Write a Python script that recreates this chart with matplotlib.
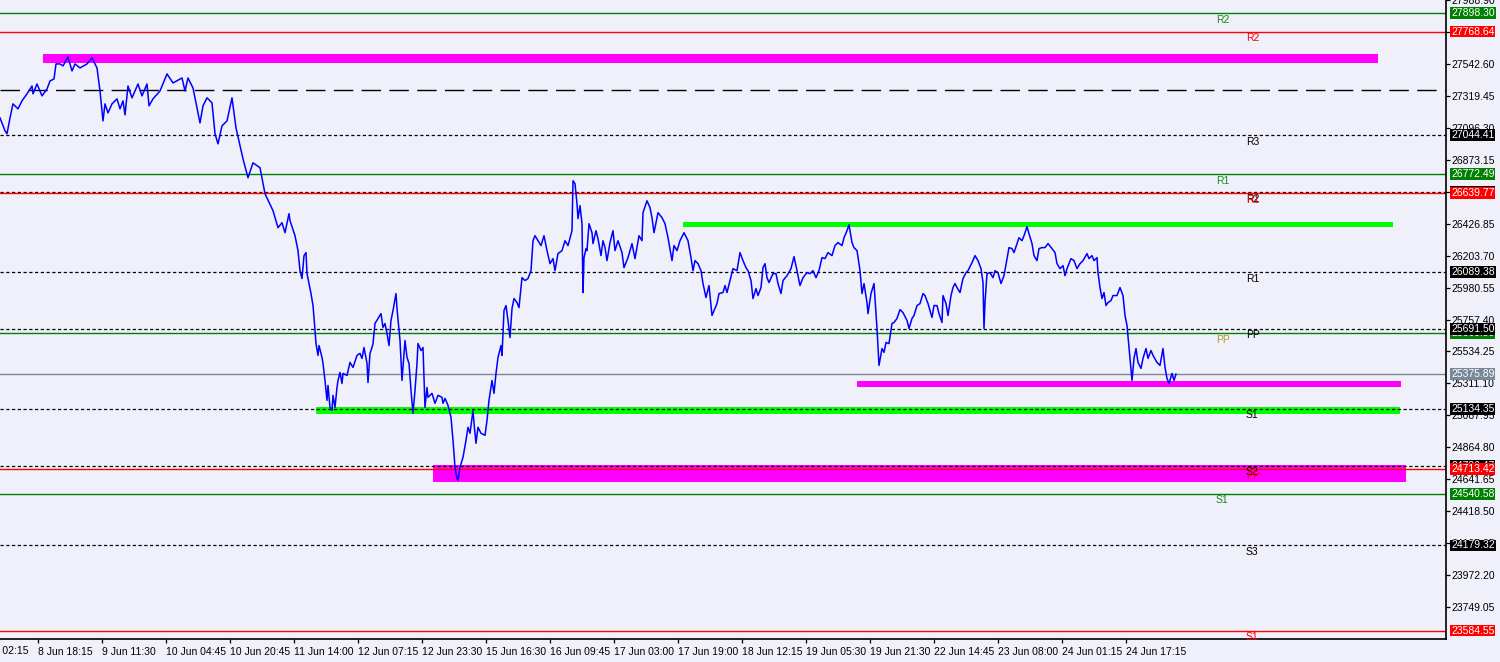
import matplotlib
matplotlib.use("Agg")
import matplotlib.pyplot as plt

plt.rcParams['font.family'] = ['Liberation Sans', 'DejaVu Sans']

# price series (bar number, close)
bars = [0, 5, 7, 10, 13, 18, 22, 27, 32, 33, 37, 42, 47, 50, 54, 56, 60, 63, 68, 72, 75, 80, 87, 92, 97,
        100, 103, 105, 108, 112, 117, 120, 123, 125, 128, 132, 138, 142, 147, 149, 153, 160, 167, 173, 182,
        185, 188, 193, 197, 200, 203, 207, 212, 215, 218, 222, 227, 232, 236, 240, 243, 248, 253, 260, 265,
        273, 278, 282, 285, 289, 290, 295, 298, 300, 302, 304, 306, 307, 311, 313, 314, 316, 318, 319, 322,
        323, 325, 327, 328, 330, 332, 333, 335, 337, 338, 340, 342, 343, 347, 350, 353, 357, 360, 362, 364,
        367, 368, 370, 372, 373, 375, 378, 381, 383, 385, 387, 389, 391, 393, 396, 397, 400, 402, 405, 407,
        409, 411, 413, 415, 417, 418, 421, 423, 424, 425, 427, 428, 432, 435, 438, 442, 443, 445, 448, 451,
        453, 455, 457, 458, 460, 463, 466, 468, 470, 473, 474, 476, 478, 481, 485, 487, 489, 492, 494, 496,
        498, 501, 502, 504, 506, 508, 510, 512, 514, 517, 519, 522, 525, 528, 531, 533, 535, 538, 541, 544,
        547, 550, 553, 555, 558, 562, 565, 568, 572, 573, 575, 577, 578, 580, 582, 583, 584, 586, 587, 589,
        592, 593, 596, 598, 601, 603, 605, 607, 610, 613, 615, 618, 622, 624, 628, 632, 635, 639, 642, 643,
        647, 650, 652, 654, 657, 658, 662, 665, 668, 672, 674, 677, 680, 684, 688, 691, 693, 695, 698, 701,
        703, 706, 709, 712, 714, 717, 719, 723, 725, 727, 730, 733, 737, 740, 743, 746, 748, 751, 753, 756,
        758, 761, 763, 765, 767, 769, 773, 776, 778, 781, 783, 787, 791, 794, 797, 800, 803, 807, 810, 813,
        816, 819, 822, 825, 828, 832, 835, 838, 842, 844, 847, 849, 852, 854, 857, 860, 862, 864, 867, 868,
        871, 874, 877, 879, 882, 884, 886, 889, 892, 894, 897, 900, 903, 907, 909, 912, 914, 917, 920, 923,
        925, 928, 932, 934, 937, 939, 942, 943, 946, 948, 951, 953, 955, 957, 960, 963, 966, 968, 972, 975,
        978, 981, 983, 984, 985, 987, 990, 993, 995, 998, 1001, 1004, 1007, 1009, 1012, 1014, 1017, 1019, 1022, 1024,
        1027, 1029, 1032, 1034, 1037, 1039, 1042, 1045, 1048, 1052, 1055, 1057, 1060, 1063, 1065, 1067, 1071, 1074, 1077, 1080,
        1083, 1087, 1089, 1092, 1094, 1097, 1098, 1100, 1102, 1104, 1106, 1108, 1111, 1113, 1117, 1120, 1123, 1125, 1127, 1129,
        1132, 1134, 1136, 1138, 1141, 1143, 1146, 1148, 1151, 1153, 1157, 1160, 1163, 1165, 1167, 1169, 1172, 1174, 1176]
price = [27166, 27076, 27055, 27166, 27264, 27229, 27285, 27334, 27389, 27334, 27403, 27320, 27368, 27424, 27438, 27543, 27543, 27529, 27592, 27494, 27543, 27515, 27543, 27585, 27515,
         27354, 27145, 27264, 27201, 27264, 27299, 27229, 27285, 27187, 27389, 27306, 27403, 27320, 27403, 27250, 27299, 27354, 27473, 27410, 27445,
         27354, 27445, 27375, 27236, 27131, 27250, 27306, 27271, 27055, 26985, 27110, 27145, 27306, 27096, 26971, 26880, 26748, 26852, 26818, 26636,
         26518, 26399, 26434, 26364, 26497, 26448, 26343, 26239, 26099, 26044, 26204, 26225, 26078, 25939, 25855, 25772, 25590, 25507, 25576, 25493,
         25451, 25332, 25193, 25297, 25144, 25123, 25228, 25144, 25283, 25332, 25388, 25311, 25381, 25367, 25458, 25423, 25507, 25521, 25486, 25562,
         25451, 25318, 25521, 25562, 25590, 25730, 25765, 25799, 25702, 25730, 25660, 25576, 25751, 25820, 25939, 25834, 25611, 25332, 25611, 25493,
         25451, 25263, 25102, 25263, 25451, 25590, 25541, 25562, 25353, 25144, 25283, 25214, 25242, 25172, 25228, 25214, 25172, 25207, 25158, 25074,
         24914, 24726, 24649, 24635, 24726, 24795, 24914, 25005, 24963, 25123, 25032, 24893, 25005, 24963, 24949, 25053, 25193, 25332, 25242, 25381,
         25493, 25576, 25507, 25820, 25855, 25751, 25632, 25834, 25904, 25876, 25841, 26050, 26030, 26044, 26099, 26308, 26343, 26308, 26274, 26343,
         26239, 26148, 26183, 26099, 26218, 26239, 26308, 26274, 26378, 26727, 26706, 26566, 26462, 26553, 26427, 25946, 26190, 26253, 26239, 26427,
         26364, 26288, 26378, 26322, 26204, 26308, 26260, 26169, 26295, 26378, 26239, 26308, 26225, 26120, 26190, 26288, 26183, 26343, 26308, 26504,
         26587, 26539, 26469, 26364, 26469, 26504, 26469, 26427, 26329, 26169, 26274, 26239, 26308, 26364, 26308, 26190, 26099, 26169, 26148, 26099,
         26009, 25911, 25995, 25786, 25820, 25869, 25939, 25946, 25995, 25946, 26030, 26113, 26099, 26225, 26169, 26120, 26099, 26030, 25904, 25974,
         25925, 25981, 26120, 26148, 26050, 26016, 26078, 26078, 26009, 25939, 26030, 26064, 26113, 26197, 26099, 25995, 26050, 26085, 26078, 26099,
         26050, 26099, 26190, 26183, 26225, 26204, 26274, 26295, 26274, 26329, 26378, 26420, 26295, 26260, 26239, 26099, 25939, 26009, 25876, 25799,
         25939, 26009, 25695, 25437, 25555, 25528, 25597, 25590, 25730, 25737, 25765, 25827, 25806, 25751, 25695, 25765, 25786, 25855, 25869, 25939,
         25925, 25869, 25772, 25855, 25855, 25799, 25737, 25925, 25869, 25786, 25925, 25981, 26009, 25981, 25946, 26044, 26085, 26099, 26155, 26204,
         26169, 26113, 26016, 25695, 25876, 26078, 26085, 26050, 26099, 26085, 26009, 26064, 26183, 26260, 26253, 26225, 26288, 26329, 26308, 26343,
         26406, 26357, 26288, 26204, 26169, 26253, 26260, 26260, 26288, 26253, 26225, 26148, 26113, 26134, 26064, 26113, 26183, 26169, 26113, 26148,
         26169, 26218, 26183, 26204, 26169, 26190, 26085, 25981, 25904, 25946, 25855, 25876, 25890, 25925, 25925, 25981, 25925, 25786, 25716, 25562,
         25332, 25486, 25555, 25458, 25416, 25486, 25555, 25486, 25541, 25507, 25458, 25437, 25555, 25423, 25346, 25311, 25381, 25332, 25376]

# pivot level sets
green_levels = [27898.30, 26772.49, 25660.59, 24540.58]
green_names = ["R2", "R1", "PP", "S1"]
red_levels = [27768.64, 26639.77, 24713.42, 23584.55]
red_names = ["R2", "R1", "PP", "S1"]
black_levels = [27044.41, 26646.53, 26089.38, 25691.50, 25134.35, 24736.47, 24179.32]
black_names = ["R3", "R2", "R1", "PP", "S1", "S2", "S3"]
bid = 25375.89
dash_level = 27361

# supply / demand zones
zone_start = [43, 683, 857, 316, 433]
zone_end = [1378, 1393, 1401, 1400, 1406]
zone_low = [27550, 26401, 25283, 25095, 24624]
zone_high = [27612, 26436, 25325, 25144, 24743]
zone_color = ['#FF00FF', '#00FF00', '#FF00FF', '#00FF00', '#FF00FF']

ytick_vals = [23749.05, 23972.20, 24195.35, 24418.50, 24641.65, 24864.80, 25087.95, 25311.10, 25534.25, 25757.40,
              25980.55, 26203.70, 26426.85, 26650.00, 26873.15, 27096.30, 27319.45, 27542.60, 27765.75, 27988.90]
xtick_bars = [38, 102, 166, 230, 294, 358, 422, 486, 550, 614, 678, 742, 806, 870, 934, 998, 1062, 1126]
xtick_labels = ["8 Jun 18:15", "9 Jun 11:30", "10 Jun 04:45", "10 Jun 20:45", "11 Jun 14:00",
                "12 Jun 07:15", "12 Jun 23:30", "15 Jun 16:30", "16 Jun 09:45", "17 Jun 03:00", "17 Jun 19:00",
                "18 Jun 12:15", "19 Jun 05:30", "19 Jun 21:30", "22 Jun 14:45", "23 Jun 08:00", "24 Jun 01:15",
                "24 Jun 17:15"]
first_bar, first_label = -26, "8 Jun 02:15"   # partly scrolled off the left edge

BG = '#F0F0FA'
FS = 7.5
GREEN = '#008000'
RED = '#FF0000'
GREY = '#778899'

fig = plt.figure(figsize=(15, 6.62), dpi=100, facecolor=BG)
ax = fig.add_axes([0, 23 / 662, 1446 / 1500, 639 / 662])
ax.set_facecolor(BG)
ax.set_xlim(0, 1446)
ax.set_ylim(23526, 27989.5)

for s in ['left', 'top']:
    ax.spines[s].set_visible(False)
for s in ['right', 'bottom']:
    ax.spines[s].set_color('black')
    ax.spines[s].set_linewidth(1.2)

# zones
for x0, x1, lo, hi, c in zip(zone_start, zone_end, zone_low, zone_high, zone_color):
    ax.barh((lo + hi) / 2, x1 - x0, left=x0, height=hi - lo, color=c, zorder=1)

# level lines
ax.axhline(dash_level, color='black', lw=1.0, dashes=(14, 6), zorder=2)
for v in black_levels:
    ax.axhline(v, color='black', lw=0.9, dashes=(2.6, 2.0), zorder=2)
for v in green_levels:
    ax.axhline(v, color=GREEN, lw=1.0, zorder=2)
for v in red_levels:
    ax.axhline(v, color=RED, lw=1.0, zorder=2)
ax.axhline(bid, color=GREY, lw=1.0, zorder=2)

# price
ax.plot(bars, price, color='#0000FF', lw=1.1, zorder=4)

# level names inside chart
for v, n in zip(green_levels, green_names):
    c = '#B09A30' if n == 'PP' else '#1A8A1A'
    ax.annotate(n, xy=(1216, v), xytext=(0, -1.5), textcoords='offset pixels',
                va='top', ha='left', fontsize=FS, color=c, zorder=6)
for v, n in zip(black_levels, black_names):
    ax.annotate(n, xy=(1246, v), xytext=(0, -1.5), textcoords='offset pixels',
                va='top', ha='left', fontsize=FS, color='black', zorder=6)
for v, n in zip(red_levels, red_names):
    ax.annotate(n, xy=(1246, v), xytext=(0, -1.5), textcoords='offset pixels',
                va='top', ha='left', fontsize=FS, color=RED, zorder=7)

# right price scale
ax.yaxis.tick_right()
ax.set_yticks(ytick_vals)
ax.set_yticklabels(['%.2f' % v for v in ytick_vals])
ax.tick_params(axis='y', direction='out', length=3, width=0.9, pad=1, labelsize=FS, colors='black')
ax.set_xticks(xtick_bars)
ax.set_xticklabels(xtick_labels)
ax.tick_params(axis='x', direction='out', length=3, width=0.9, pad=2.5, labelsize=FS, colors='black')
for lbl in ax.get_xticklabels():
    lbl.set_horizontalalignment('left')
ax.set_xlim(0, 1446)
ax.annotate(first_label, xy=(first_bar, 0), xycoords=ax.get_xaxis_transform(),
            xytext=(0, -5), textcoords='offset points', ha='left', va='top',
            fontsize=FS, annotation_clip=False, clip_on=False)

# boxed level values on the scale
trans = ax.get_yaxis_transform()
def price_box(v, fc, z):
    ax.text(1.0035, v, '%.2f' % v, transform=trans, ha='left', va='center', fontsize=FS,
            color='white', clip_on=False, zorder=z,
            bbox=dict(boxstyle='square,pad=0.08', fc=fc, ec='none'))

for v in green_levels:
    price_box(v, GREEN, 8)
for v in black_levels:
    price_box(v, 'black', 9)
for v in red_levels:
    price_box(v, RED, 10)
price_box(bid, GREY, 10)

fig.savefig('out.png', dpi=100, facecolor=BG)
